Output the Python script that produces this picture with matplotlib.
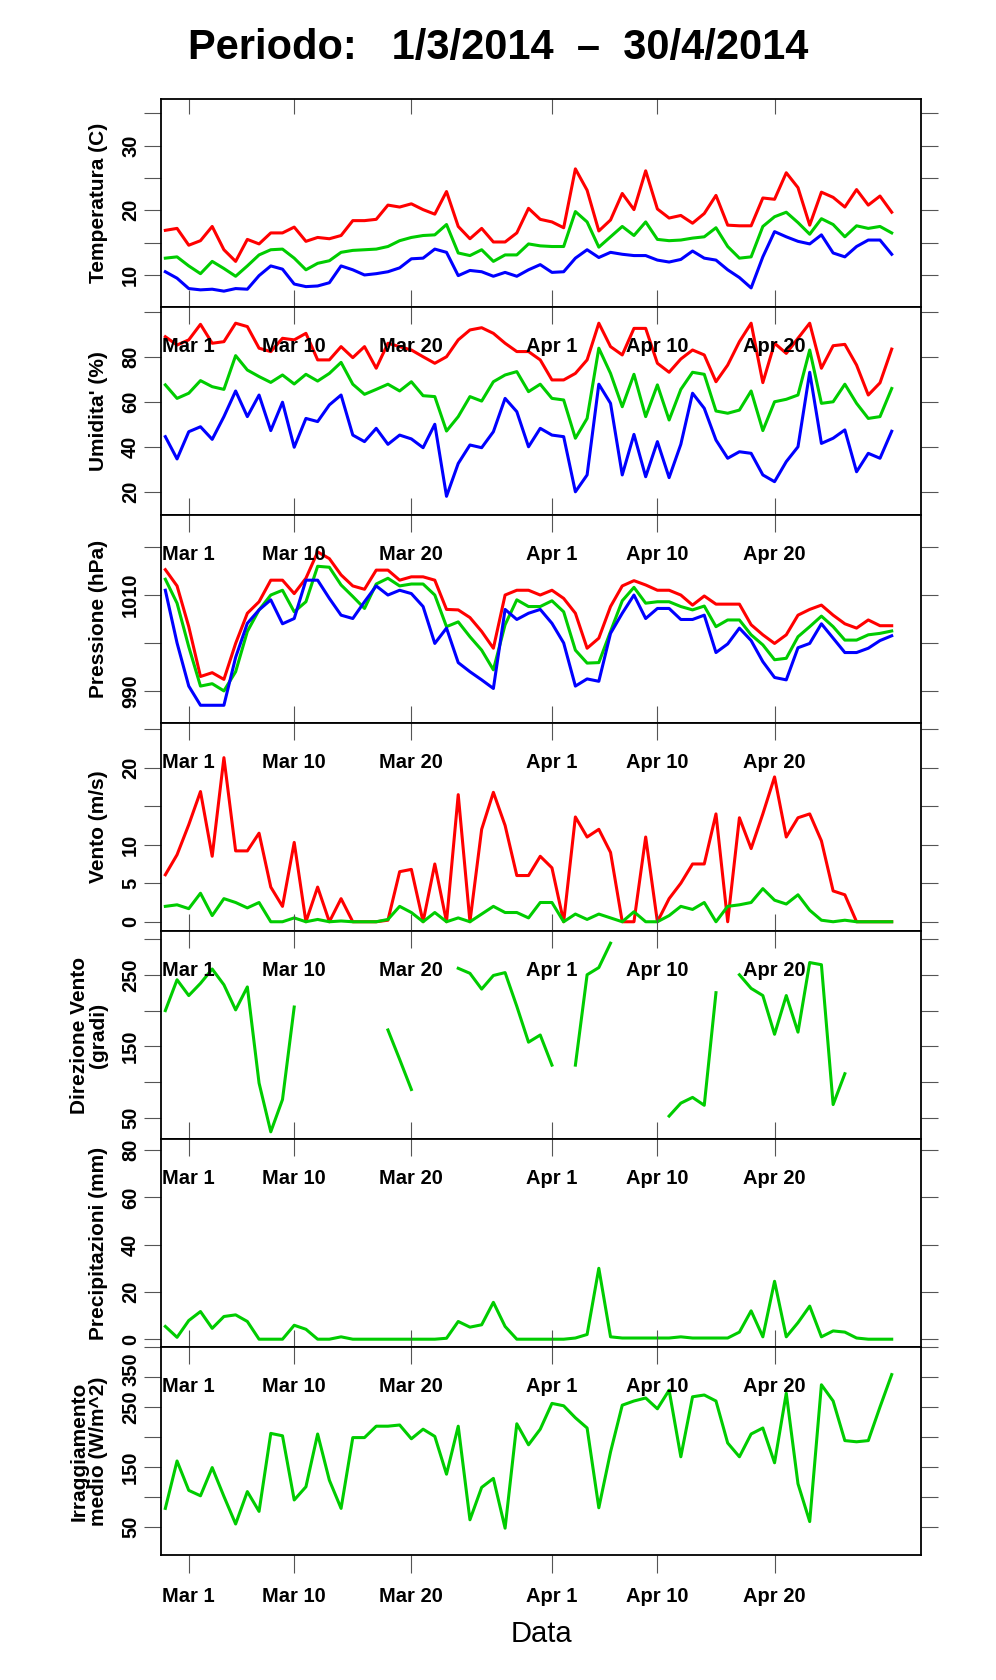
import numpy as np
import matplotlib.pyplot as plt
from matplotlib.transforms import blended_transform_factory, ScaledTranslation

plt.rcParams['font.family'] = ['Liberation Sans', 'DejaVu Sans']

# days from Mar 1 (Feb 27 .. Apr 30)
days = np.arange(63) - 2

tick_days = [0, 9, 19, 31, 40, 50]
tick_labels = ['Mar 1', 'Mar 10', 'Mar 20', 'Apr 1', 'Apr 10', 'Apr 20']

temp_max = [16.9, 17.2, 14.6, 15.3, 17.5, 13.9, 12.1, 15.5, 14.8, 16.5, 16.5, 17.4, 15.2, 15.8, 15.6, 16.1,
            18.4, 18.4, 18.6, 20.8, 20.5, 21.0, 20.1, 19.4, 22.9, 17.5, 15.6, 17.2, 15.1, 15.1, 16.5, 20.3,
            18.6, 18.2, 17.3, 26.4, 23.1, 16.8, 18.5, 22.6, 20.1, 26.1, 20.2, 18.8, 19.2, 18.0, 19.5, 22.3,
            17.7, 17.6, 17.6, 21.9, 21.7, 25.8, 23.5, 17.7, 22.8, 22.0, 20.5, 23.2, 20.8, 22.2, 19.7]
temp_mean = [12.6, 12.8, 11.4, 10.2, 12.1, 11.0, 9.8, 11.4, 13.1, 13.9, 14.0, 12.6, 10.8, 11.8, 12.2, 13.5,
             13.8, 13.9, 14.0, 14.4, 15.3, 15.8, 16.1, 16.2, 17.8, 13.4, 13.0, 13.9, 12.1, 13.1, 13.1, 14.8,
             14.5, 14.4, 14.4, 19.8, 18.2, 14.3, 15.9, 17.5, 16.1, 18.2, 15.5, 15.3, 15.4, 15.7, 15.9, 17.3,
             14.4, 12.6, 12.8, 17.5, 19.0, 19.7, 18.1, 16.3, 18.7, 17.8, 15.9, 17.6, 17.2, 17.5, 16.5]
temp_min = [10.5, 9.5, 7.9, 7.7, 7.8, 7.5, 7.9, 7.8, 9.9, 11.4, 10.9, 8.6, 8.2, 8.3, 8.8, 11.4,
            10.8, 10.0, 10.2, 10.5, 11.1, 12.5, 12.6, 14.0, 13.5, 9.9, 10.7, 10.5, 9.8, 10.4, 9.8, 10.8,
            11.6, 10.4, 10.5, 12.6, 13.9, 12.7, 13.5, 13.2, 13.0, 13.0, 12.3, 12.0, 12.4, 13.7, 12.6, 12.3,
            10.8, 9.6, 8.0, 12.8, 16.7, 15.9, 15.2, 14.8, 16.2, 13.4, 12.8, 14.4, 15.4, 15.4, 13.2]

hum_max = [89.0, 85.3, 87.6, 94.5, 86.1, 86.8, 95.0, 93.5, 83.9, 82.4, 88.3, 87.6, 90.5, 78.7, 78.7, 84.6,
           79.7, 84.6, 75.0, 86.1, 84.6, 83.1, 80.1, 77.2, 80.1, 87.6, 92.0, 93.0, 90.5, 86.1, 82.4, 82.4,
           78.7, 69.8, 69.8, 72.7, 78.7, 95.0, 84.6, 80.9, 92.7, 92.7, 77.2, 73.2, 79.1, 83.1, 80.9, 69.0,
           76.4, 86.8, 95.0, 68.6, 86.1, 81.6, 88.3, 95.0, 75.0, 85.0, 85.6, 76.4, 63.1, 68.5, 83.5]
hum_mean = [67.6, 61.6, 63.9, 69.5, 66.8, 65.6, 80.6, 74.2, 71.3, 68.7, 72.0, 68.0, 72.3, 69.3, 72.7, 77.6,
            67.9, 63.4, 65.6, 67.9, 64.9, 69.0, 62.8, 62.4, 47.1, 53.5, 62.4, 60.4, 69.0, 72.0, 73.5, 64.6,
            67.9, 61.6, 60.9, 43.9, 52.7, 83.9, 72.7, 57.9, 72.3, 53.5, 67.6, 52.0, 65.6, 73.2, 72.3, 56.0,
            55.0, 56.4, 64.9, 47.3, 60.1, 61.2, 63.1, 83.1, 59.4, 60.1, 67.9, 59.4, 52.7, 53.5, 66.0]
hum_min = [44.6, 34.7, 46.8, 49.0, 43.4, 53.5, 64.9, 53.5, 63.1, 47.3, 59.9, 39.9, 52.7, 51.3, 58.7, 63.1,
           45.3, 42.4, 48.3, 41.2, 45.3, 43.6, 39.7, 50.1, 18.1, 32.7, 40.9, 39.7, 46.8, 61.6, 55.7, 40.1,
           48.3, 45.3, 44.6, 20.1, 27.6, 67.9, 59.4, 27.6, 45.6, 26.8, 42.4, 26.4, 41.2, 63.9, 57.2, 43.1,
           35.0, 37.9, 37.2, 27.6, 24.6, 33.5, 40.1, 73.2, 41.6, 43.9, 47.6, 29.0, 37.2, 35.0, 47.0]

pres_max = [1015.3, 1011.9, 1003.4, 993.0, 993.8, 992.4, 999.9, 1006.2, 1008.6, 1013.1, 1013.1, 1010.3,
            1013.5, 1019.0, 1017.6, 1014.2, 1011.9, 1011.2, 1015.2, 1015.2, 1013.1, 1013.8, 1013.8, 1013.1,
            1007.0, 1006.9, 1005.3, 1002.4, 998.9, 1010.0, 1011.0, 1011.0, 1010.0, 1011.0, 1009.3, 1006.2,
            998.9, 1001.0, 1007.6, 1011.9, 1013.0, 1012.1, 1011.0, 1011.0, 1010.0, 1007.9, 1009.8, 1008.1,
            1008.1, 1008.1, 1003.8, 1001.7, 999.9, 1001.7, 1005.8, 1007.0, 1007.9, 1005.8, 1004.0, 1003.1,
            1004.8, 1003.6, 1003.6]
pres_mean = [1013.3, 1008.3, 999.2, 991.0, 991.5, 990.0, 994.0, 1002.4, 1006.9, 1010.0, 1011.0, 1006.5,
             1008.6, 1016.0, 1015.8, 1012.1, 1009.7, 1007.2, 1012.3, 1013.5, 1011.9, 1012.3, 1012.3, 1010.0,
             1003.4, 1004.4, 1001.3, 998.5, 994.4, 1003.8, 1009.0, 1007.6, 1007.6, 1008.8, 1006.5, 998.5,
             995.8, 995.9, 1002.4, 1008.8, 1011.6, 1008.3, 1008.6, 1008.6, 1007.6, 1006.9, 1007.7, 1003.4,
             1004.8, 1004.8, 1001.7, 999.6, 996.5, 996.8, 1001.3, 1003.4, 1005.6, 1003.4, 1000.6, 1000.6,
             1001.7, 1002.0, 1002.5]
pres_min = [1011.0, 1000.0, 991.0, 987.0, 987.0, 987.0, 997.0, 1004.1, 1006.9, 1009.0, 1004.0, 1005.1,
            1013.1, 1013.1, 1009.3, 1005.8, 1005.1, 1008.6, 1011.9, 1010.0, 1011.0, 1010.3, 1007.6, 999.9,
            1003.1, 995.9, 994.0, 992.3, 990.5, 1007.0, 1004.9, 1006.2, 1007.0, 1004.1, 1000.0, 991.0,
            992.5, 992.0, 1002.0, 1006.2, 1010.0, 1005.1, 1007.2, 1007.2, 1004.9, 1004.9, 1005.8, 998.0,
            999.8, 1003.1, 1000.5, 996.1, 992.8, 992.3, 999.0, 999.9, 1004.0, 1001.0, 998.0, 998.0,
            998.9, 1000.5, 1001.5]

wind_max = [6.1, 8.7, 12.6, 16.9, 8.5, 21.3, 9.2, 9.2, 11.5, 4.5, 2.0, 10.3, 0, 4.5, 0, 3.0,
            0, 0, 0, 0.2, 6.5, 6.8, 0, 7.5, 0, 16.5, 0, 12.0, 16.8, 12.5, 6.0, 6.0,
            8.5, 7.0, 0, 13.6, 11.0, 12.0, 9.0, 0, 0, 11.0, 0, 3.0, 5.0, 7.5, 7.5, 14.0,
            0, 13.5, 9.5, 14.0, 18.8, 11.0, 13.5, 14.0, 10.5, 4.0, 3.5, 0, 0, 0, 0]
wind_mean = [2.0, 2.2, 1.7, 3.7, 0.8, 3.0, 2.5, 1.8, 2.5, 0, 0, 0.5, 0, 0.3, 0, 0.1,
             0, 0, 0, 0.3, 2.0, 1.2, 0, 1.2, 0, 0.5, 0, 1.0, 2.0, 1.2, 1.2, 0.5,
             2.5, 2.5, 0, 1.0, 0.3, 1.0, 0.5, 0, 1.3, 0, 0, 0.8, 2.0, 1.6, 2.5, 0,
             2.0, 2.2, 2.5, 4.3, 2.8, 2.3, 3.5, 1.5, 0.2, 0, 0.2, 0, 0, 0, 0]

nan = np.nan
wind_dir = [200, 243, 221, 238, 258, 236, 201, 233, 99, 31, 76, 205, nan, nan, nan, nan,
            nan, nan, nan, 173, 132, 90, nan, nan, nan, 259, 252, 230, 249, 253, 206, 156,
            166, 124, nan, 124, 250, 260, 294, nan, nan, nan, nan, 53, 71, 79, 68, 225,
            nan, 250, 231, 221, 167, 221, 170, 267, 264, 69, 112, nan, nan, nan, nan]

rain = [5.4, 0.8, 7.9, 11.7, 4.6, 9.6, 10.3, 7.5, 0, 0, 0, 5.9, 4.2, 0, 0, 1.0,
        0, 0, 0, 0, 0, 0, 0, 0, 0.4, 7.5, 5.1, 6.1, 15.6, 5.4, 0, 0,
        0, 0, 0, 0.5, 2.0, 30.0, 1.0, 0.5, 0.5, 0.5, 0.5, 0.5, 1.0, 0.5, 0.5, 0.5,
        0.5, 3.0, 12.0, 1.0, 24.5, 1.0, 7.0, 14.0, 1.0, 3.5, 3.0, 0.5, 0, 0, 0]

irr = [81, 160, 111, 102, 149, 101, 55, 109, 76, 206, 202, 95, 117, 205, 128, 81,
       199, 199, 218, 218, 220, 197, 213, 201, 138, 218, 62, 116, 131, 48, 222, 187,
       213, 256, 252, 232, 215, 82, 175, 253, 260, 265, 247, 278, 167, 267, 270, 260,
       190, 167, 205, 215, 157, 273, 122, 59, 287, 260, 194, 192, 194, 250, 304]

RED, GREEN, BLUE = '#ff0000', '#00cc00', '#0000ff'

panels = [
    ("Temperatura (C)", [(temp_max, RED), (temp_mean, GREEN), (temp_min, BLUE)],
     (5.05, 37.2), np.arange(10, 36, 5), [10, 20, 30]),
    ("Umidita' (%)", [(hum_max, RED), (hum_mean, GREEN), (hum_min, BLUE)],
     (9.8, 102.2), np.arange(20, 101, 20), [20, 40, 60, 80]),
    ("Pressione (hPa)", [(pres_max, RED), (pres_mean, GREEN), (pres_min, BLUE)],
     (983.3, 1026.7), np.arange(990, 1021, 10), [990, 1010]),
    ("Vento (m/s)", [(wind_max, RED), (wind_mean, GREEN)],
     (-1.2, 25.8), np.arange(0, 26, 5), [0, 5, 10, 20]),
    ("Direzione Vento\n(gradi)", [(wind_dir, GREEN)],
     (21, 311), np.arange(50, 301, 50), [50, 150, 250]),
    ("Precipitazioni (mm)", [(rain, GREEN)],
     (-3.3, 84.7), np.arange(0, 81, 20), [0, 20, 40, 60, 80]),
    ("Irraggiamento\nmedio (W/m^2)", [(irr, GREEN)],
     (3.3, 350), np.arange(50, 351, 50), [50, 150, 250, 350]),
]

W, H = 996, 1680
fig = plt.figure(figsize=(W / 100, H / 100), dpi=100)
left, right, top, ph = 161, 921, 99, 208

for k, (label, series, ylim, yt, ylab) in enumerate(panels):
    y0 = top + ph * (k + 1)
    ax = fig.add_axes([left / W, 1 - y0 / H, (right - left) / W, ph / H])
    for vals, col in series:
        ax.plot(days, vals, color=col, lw=2.2, solid_joinstyle='round')
    ax.set_xlim(-2.37, 62.5)
    ax.set_ylim(*ylim)
    ax.set_yticks(yt)
    ax.set_yticklabels([str(v) if v in ylab else '' for v in yt], rotation=90,
                       va='center', fontsize=14.5, fontweight='bold')
    ax.tick_params(axis='y', which='both', direction='out', length=12, left=True, right=True,
                   color='#555555', pad=3)
    ax.set_xticks(tick_days)
    ax.xaxis.tick_top()
    ax.set_xticklabels([])
    ax.tick_params(axis='x', direction='in' if k == 0 else 'inout', length=11 if k == 0 else 24,
                   color='#555555', top=True, bottom=False)
    for s in ax.spines.values():
        s.set_linewidth(1.3)
    ax.set_ylabel(label, fontsize=15, fontweight='bold', linespacing=1.0)
    ax.yaxis.set_label_coords(-0.07, 0.5)
    if k > 0:
        tr = blended_transform_factory(ax.transData, ax.transAxes)
        for d, t in zip(tick_days, tick_labels):
            ax.text(d, 0.81, t, transform=tr, ha='center', va='center',
                    fontsize=14.5, fontweight='bold')
    if k == len(panels) - 1:
        # nudge the top label down so it clears the "0" of the panel above
        lab = ax.get_yticklabels()[-1]
        lab.set_transform(lab.get_transform() + ScaledTranslation(0, -0.22, fig.dpi_scale_trans))
        sec = ax.secondary_xaxis('bottom')
        sec.set_xticks(tick_days)
        sec.set_xticklabels(tick_labels, fontsize=14.5, fontweight='bold')
        sec.tick_params(direction='out', length=13, color='#555555', pad=10)
        sec.spines['bottom'].set_visible(False)
        sec.set_xlabel('Data', fontsize=21, labelpad=10)

fig.text(0.5, 1 - 48 / H, 'Periodo:   1/3/2014  \u2013  30/4/2014', ha='center', va='center',
         fontsize=30, fontweight='bold')

fig.savefig('out.png', dpi=100)
